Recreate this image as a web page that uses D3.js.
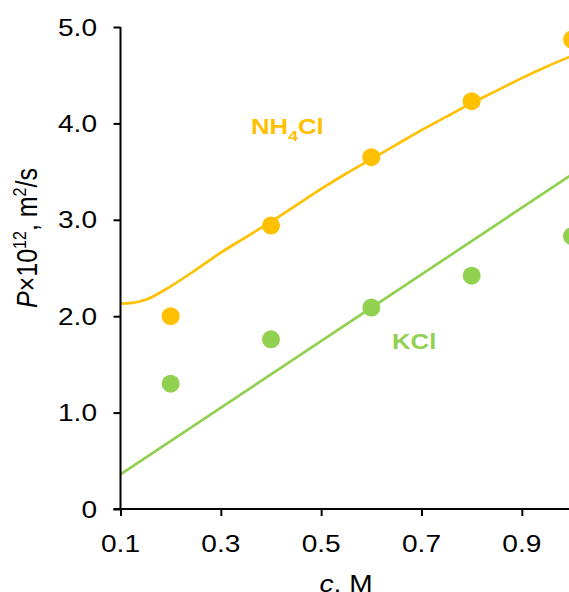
<!DOCTYPE html>
<html>
<head>
<meta charset="utf-8">
<script src="https://cdn.jsdelivr.net/npm/d3@7"></script>
<style>
  html, body { margin: 0; padding: 0; background: #fff; }
  svg { display: block; font-family: "Liberation Sans", Arial, sans-serif; }
</style>
</head>
<body>
<svg id="chart" width="569" height="592"></svg>
<script>
// Measured permeability P (×10^-12 m²/s) versus salt concentration c (M)
const concentrations = [0.2, 0.4, 0.6, 0.8, 1.0];
const nh4clP = [2.00, 2.94, 3.65, 4.23, 4.87];
const kclP = [1.30, 1.76, 2.09, 2.42, 2.83];

// Model curves
const nh4clFitC = [0.1, 0.12, 0.15, 0.2, 0.25, 0.3, 0.35, 0.4, 0.45, 0.5, 0.55, 0.6, 0.65, 0.7, 0.75, 0.8, 0.85, 0.9, 0.95, 1.0];
const nh4clFitP = [2.13, 2.135, 2.17, 2.31, 2.48, 2.66, 2.82, 2.98, 3.15, 3.32, 3.48, 3.63, 3.78, 3.93, 4.07, 4.21, 4.34, 4.47, 4.59, 4.70];
const kclFitC = [0.1, 1.0];
const kclFitP = [0.36, 3.47];

// Axis ticks
const xTicks = [0.1, 0.3, 0.5, 0.7, 0.9];
const yTicks = [0, 1, 2, 3, 4, 5];
const yTickLabels = ["0", "1.0", "2.0", "3.0", "4.0", "5.0"];

const orange = "#FFC000";
const green = "#92D050";
const stretch = 1.17; // horizontal widening of the lettering

const svg = d3.select("#chart");
const x = d3.scaleLinear().domain([0.1, 1.0]).range([120.5, 572]);
const y = d3.scaleLinear().domain([0, 5]).range([509, 27]);

// text helper: places widened text at (px, py)
function label(px, py, anchor, size) {
  return svg.append("text")
    .attr("transform", `translate(${px},${py}) scale(${stretch},1)`)
    .attr("text-anchor", anchor)
    .attr("font-size", size)
    .attr("fill", "#000");
}

// fitted curves
svg.append("path")
  .datum(nh4clFitC.map((c, i) => [c, nh4clFitP[i]]))
  .attr("d", d3.line().x(d => x(d[0])).y(d => y(d[1])).curve(d3.curveMonotoneX))
  .attr("fill", "none").attr("stroke", orange).attr("stroke-width", 2.7);
svg.append("path")
  .datum(kclFitC.map((c, i) => [c, kclFitP[i]]))
  .attr("d", d3.line().x(d => x(d[0])).y(d => y(d[1])))
  .attr("fill", "none").attr("stroke", green).attr("stroke-width", 2.7);

// data points
svg.append("g").selectAll("circle")
  .data(concentrations.map((c, i) => [c, nh4clP[i]]))
  .join("circle")
  .attr("cx", d => x(d[0])).attr("cy", d => y(d[1])).attr("r", 9)
  .attr("fill", orange);
svg.append("g").selectAll("circle")
  .data(concentrations.map((c, i) => [c, kclP[i]]))
  .join("circle")
  .attr("cx", d => x(d[0])).attr("cy", d => y(d[1])).attr("r", 9)
  .attr("fill", green);

// axes
const xAxis = d3.axisBottom(x).tickValues(xTicks).tickSize(7).tickFormat("");
const gx = svg.append("g").attr("transform", `translate(0,${y(0)})`).call(xAxis);
const yAxis = d3.axisLeft(y).tickValues(yTicks).tickSize(7).tickFormat("");
const gy = svg.append("g").attr("transform", `translate(${x(0.1)},0)`).call(yAxis);
[gx, gy].forEach(g => {
  g.select(".domain").attr("stroke", "#000").attr("stroke-width", 2);
  g.selectAll(".tick line").attr("stroke", "#000").attr("stroke-width", 2);
});
gx.select(".domain").attr("d", `M${x(0.1) - 7},0H${x(1.0) + 5}`);
gy.select(".domain").attr("d", `M0,${y(5)}V${y(0)}`);

// tick labels
xTicks.forEach(t => {
  label(x(t), 552, "middle", 24).text(t.toFixed(1));
});
yTicks.forEach((t, i) => {
  label(97, y(t) + 8.6, "end", 24).text(yTickLabels[i]);
});

// axis titles
const xt = label(346, 592, "middle", 24);
xt.append("tspan").attr("font-style", "italic").text("c");
xt.append("tspan").text(", M");

const yt = svg.append("text")
  .attr("transform", `translate(37,238) scale(${stretch},1) rotate(-90)`)
  .attr("text-anchor", "middle")
  .attr("font-size", 25)
  .attr("fill", "#000");
yt.append("tspan").attr("font-style", "italic").text("P");
yt.append("tspan").text("×10");
yt.append("tspan").attr("font-size", 16).attr("dy", -9).text("12");
yt.append("tspan").attr("dy", 9).text(", m");
yt.append("tspan").attr("font-size", 16).attr("dy", -9).text("2");
yt.append("tspan").attr("dy", 9).text("/s");

// series labels
const nl = label(251, 134, "start", 22).attr("font-weight", "bold").attr("fill", orange);
nl.append("tspan").text("NH");
nl.append("tspan").attr("font-size", 15).attr("dy", 7).text("4");
nl.append("tspan").attr("dy", -7).text("Cl");

label(392, 349, "start", 22).attr("font-weight", "bold").attr("fill", green).text("KCl");
</script>
</body>
</html>
